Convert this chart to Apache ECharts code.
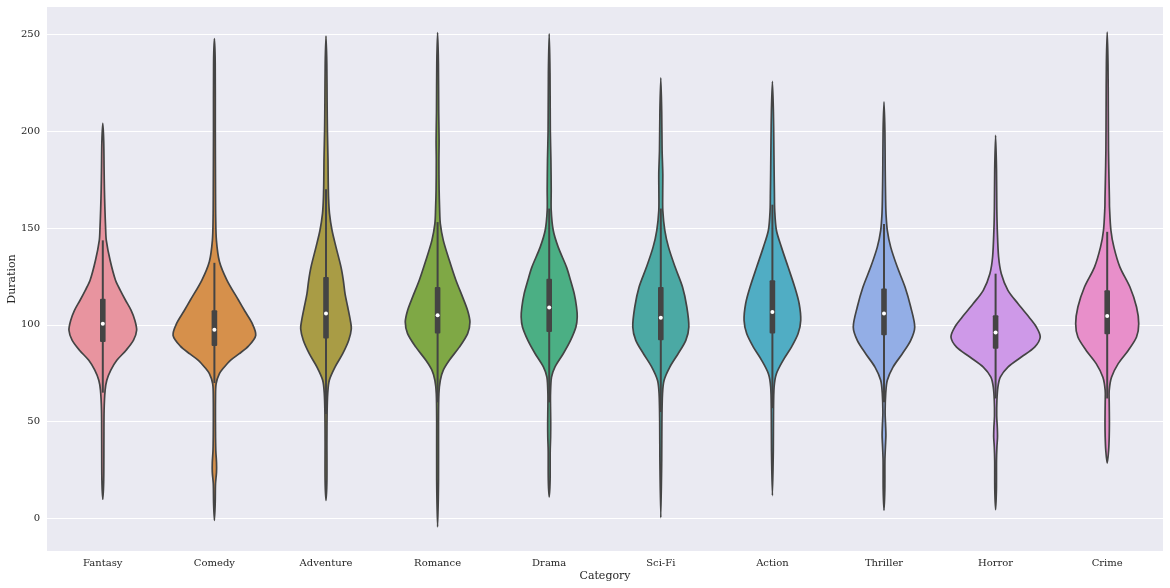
<!DOCTYPE html>
<html>
<head>
<meta charset="utf-8">
<script src="https://cdn.jsdelivr.net/npm/echarts@6/dist/echarts.min.js"></script>
<style>html,body{margin:0;padding:0;background:#fff}#c{width:1170px;height:588px}</style>
</head>
<body>
<div id="c"></div>
<script>
const categories = ['Fantasy','Comedy','Adventure','Romance','Drama','Sci-Fi','Action','Thriller','Horror','Crime'];
const yTicks = [0, 50, 100, 150, 200, 250];

// violin outlines: [duration, relative density], top to bottom
const fantasy = [[204,0],[195,0.9],[180,1.3],[170,1.6],[160,2.1],[150,2.8],[143.6,3.5],[133.3,7.3],[123,12.7],[117.8,17.5],[112.7,22.7],[107.5,28.3],[102.4,32],[97.2,33.8],[92.1,30.7],[86.9,23.3],[81.7,14],[76.6,8],[71.4,4],[66.2,2.3],[56,1.3],[40,1.1],[20,0.9],[10,0]];
const comedy = [[247.7,0],[235,0.8],[200,0.9],[170,1.1],[155,1.3],[143.6,2],[132.7,5],[123,12.6],[112.8,24],[107,30.5],[101,37.5],[94.6,41.3],[89,34],[85,24.5],[81.7,16],[78,9.5],[74.8,5],[69.6,1.7],[62,1.1],[45,1.1],[35,1.4],[29,2.1],[24,2.1],[18,1.1],[8,0.8],[-0.9,0]];
const adventure = [[249,0],[235,0.8],[215,1.1],[200,1.4],[185,2],[174.6,2.2],[165,2.6],[157.4,3.5],[148.8,6],[140.1,10],[129.8,15],[123,17.3],[116.1,19],[109.2,21.7],[102.3,24.3],[98,25.3],[92,22.7],[85.1,16.7],[78.2,9],[71.4,3.3],[64.5,1.7],[55,1.1],[40,0.9],[20,0.9],[9.4,0]];
const romance = [[250.8,0],[235,0.8],[210,1.1],[195,1.5],[185,1.3],[170,1.5],[160,2],[152.2,2.7],[143.6,5.7],[133.3,11.7],[123,18.3],[114.3,25],[107.4,30],[101.4,32.3],[95.5,30],[88.5,21.7],[81.7,11.7],[76.6,5.7],[71.4,2.7],[64.5,1.3],[50,0.9],[20,0.9],[-4.3,0]];
const drama = [[250.2,0],[230,0.8],[200,1.1],[185,1.7],[170,2],[159.1,2],[148.8,4],[140.1,9],[129.8,17.3],[123,21.3],[116.1,25],[109.2,27.3],[104,28],[98.9,26.7],[92,21.3],[85.1,14],[78.2,5.7],[73,2.3],[64.5,1.3],[58,1.3],[50,1.5],[42,1.4],[35,1],[20,0.9],[11.2,0]];
const scifi = [[227.5,0],[210,0.9],[190,1.3],[178,2],[168,1.9],[159,2],[148.8,4],[140.1,7.7],[129.8,14.3],[119.5,21.7],[109.2,26],[98.9,28],[92,25],[85.1,17.3],[78.2,9],[71.4,3.3],[64.5,1.7],[50,1.1],[30,0.9],[0.5,0]];
const action = [[225.6,0],[210,1],[195,1.4],[180,1.7],[168,2],[159,2.3],[148.8,4],[140.1,9],[129.8,15.7],[119.5,22.3],[111,26.7],[102.3,28.3],[95.5,25.7],[88.5,19],[81.7,10.7],[74.8,4],[67.9,1.7],[55,1.1],[35,0.9],[11.9,0]];
const thriller = [[215,0],[200,0.9],[180,1.2],[165,1.6],[157.4,2],[148.8,3.3],[140.1,6.7],[129.8,13.3],[119.5,21],[109.2,26.7],[98.9,30.7],[92,26.7],[85.1,18.3],[78.2,9],[71.4,3.3],[64.5,1.7],[55,1.1],[48,1.6],[43,1.9],[37,1.4],[30,0.9],[15,0.8],[4.3,0]];
const horror = [[197.8,0],[180,0.9],[160,1.2],[148.8,1.7],[135,3],[126.4,5.7],[117.8,12.3],[111,22.3],[104,33.3],[98.9,40.7],[93.7,44.6],[88.5,39],[83.4,25.7],[78.2,12.3],[73,4.7],[67.9,2.3],[61,1.3],[53,1.1],[47,1.7],[42,1.9],[37,1.3],[30,0.9],[15,0.8],[4.6,0]];
const crime = [[251.1,0],[235,0.8],[210,1.1],[190,1.3],[175,1.8],[165,2.2],[160.8,2.3],[148.8,3.7],[140.1,6.7],[129.8,12.7],[119.5,22.7],[109.2,29.3],[100.6,31.5],[93.7,29.3],[86.8,21],[80,11],[73,4.3],[66.2,2],[60,2],[50,2.2],[42,2],[35,1.4],[28.6,0]];

// box stats: [whisker low, q1, median, q3, whisker high]
const boxStats = [
  [65, 91.1, 100.6, 113.5, 143.6],
  [70, 89.1, 97.5, 107.5, 132],
  [54, 92.9, 105.8, 124.7, 170],
  [60, 95.5, 104.9, 119.5, 153],
  [60, 96.3, 108.9, 123.8, 160],
  [55, 92, 103.7, 119.5, 160],
  [57, 95.5, 106.6, 123, 162],
  [60, 94.6, 105.8, 118.7, 152],
  [62, 87.7, 96, 104.9, 126.4],
  [62, 95.1, 104.5, 117.8, 148]
];

const colors = ['#E8949F','#D6904B','#A99C45','#7FA845','#4BAF84','#4BA9A4','#50ADC4','#93AEE6','#CE99E8','#E88FCA'];

const violins = [fantasy, comedy, adventure, romance, drama, scifi, action, thriller, horror, crime];
let maxD = 0;
violins.forEach(v => v.forEach(p => { if (p[1] > maxD) maxD = p[1]; }));

const chart = echarts.init(document.getElementById('c'), null, {renderer: 'canvas'});
const txt = '#262626';
const fontFamily = '"DejaVu Serif", serif';

chart.setOption({
  backgroundColor: '#ffffff',
  animation: false,
  grid: {left: 47, right: 7, top: 7, bottom: 37, backgroundColor: '#EAEAF2', show: true, borderWidth: 0,
         containLabel: false, outerBoundsMode: 'none'},
  xAxis: {
    type: 'category', data: categories,
    name: 'Category', nameLocation: 'middle', nameGap: 20, nameMoveOverlap: false,
    nameTextStyle: {fontFamily, fontSize: 11, color: txt},
    axisLine: {show: false}, axisTick: {show: false},
    axisLabel: {fontFamily, fontSize: 10, color: txt, margin: 7},
    splitLine: {show: false}
  },
  yAxis: {
    type: 'value', min: -16.7, max: 264,
    name: 'Duration', nameLocation: 'middle', nameGap: 29, nameMoveOverlap: false,
    nameTextStyle: {fontFamily, fontSize: 11, color: txt},
    axisLine: {show: false},
    axisTick: {show: false, customValues: yTicks},
    axisLabel: {fontFamily, fontSize: 10, color: txt, margin: 7, customValues: yTicks},
    splitLine: {show: true, lineStyle: {color: '#ffffff', width: 1}}
  },
  series: [{
    type: 'custom',
    clip: true,
    data: categories.map((c, i) => [i, boxStats[i][2]]),
    encode: {x: 0, y: 1},
    renderItem: function (params, api) {
      const i = api.value(0);
      const shape = violins[i];
      const cx = api.coord([i, 0])[0];
      const band = api.size([1, 0])[0];
      const k = 0.4 * band / maxD;
      const left = shape.map(p => [cx - p[1] * k, api.coord([i, p[0]])[1]]);
      const right = [];
      for (let j = shape.length - 2; j >= 1; j--) {
        right.push([cx + shape[j][1] * k, api.coord([i, shape[j][0]])[1]]);
      }
      const pts = left.concat(right);
      const b = boxStats[i];
      const yWl = api.coord([i, b[0]])[1];
      const yQ1 = api.coord([i, b[1]])[1];
      const yMed = api.coord([i, b[2]])[1];
      const yQ3 = api.coord([i, b[3]])[1];
      const yWh = api.coord([i, b[4]])[1];
      return {
        type: 'group',
        children: [
          {type: 'polygon', shape: {points: pts, smooth: 0.3},
           style: {fill: colors[i], stroke: '#444444', lineWidth: 1.7}},
          {type: 'line', shape: {x1: cx, y1: yWl, x2: cx, y2: yWh},
           style: {stroke: '#444444', lineWidth: 2}},
          {type: 'rect', shape: {x: cx - 2.8, y: yQ3, width: 5.6, height: yQ1 - yQ3, r: 1},
           style: {fill: '#444444'}},
          {type: 'circle', shape: {cx: cx, cy: yMed, r: 2},
           style: {fill: '#ffffff'}}
        ]
      };
    }
  }]
});
</script>
</body>
</html>
